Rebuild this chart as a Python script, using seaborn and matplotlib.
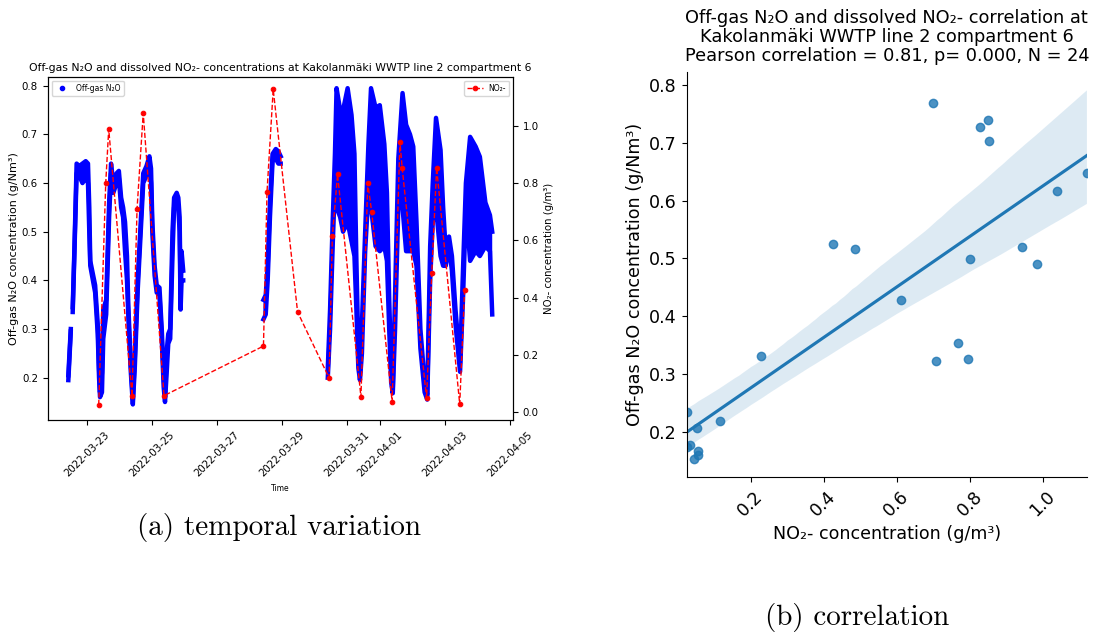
import numpy as np
import pandas as pd
import matplotlib
matplotlib.use("Agg")
import matplotlib.pyplot as plt
import matplotlib.dates as mdates
from matplotlib.lines import Line2D
import seaborn as sns

nan = np.nan
t0 = pd.Timestamp("2022-03-23")

# Off-gas N2O logger trace, read as low/high envelope (days after 2022-03-23, NaN = no data)
n2o_day = [-0.585, -0.55, -0.51, -0.48,
           -0.45, -0.40, -0.33, -0.25, -0.15, -0.05, 0.02, 0.06, 0.09, 0.24, 0.32, 0.36, 0.39,
           0.45, 0.49, 0.58, 0.67, 0.73, 0.80, 0.90, 0.97, 1.04, 1.10, 1.16, 1.22, 1.26, 1.33,
           1.40, 1.46, 1.55, 1.62, 1.72, 1.82, 1.91, 1.96, 2.00, 2.07, 2.135, 2.22, 2.29, 2.35,
           2.39, 2.45, 2.49, 2.55, 2.62, 2.67, 2.75, 2.80, 2.84, 2.87, 2.90, 2.95, 4.0,
           5.42, 5.49, 5.55, 5.62, 5.70, 5.80, 5.88, 5.95, 6.6,
           7.40, 7.47, 7.55, 7.62, 7.67, 7.78, 7.87, 8.01, 8.13, 8.22, 8.28, 8.34, 8.39,
           8.45, 8.55, 8.65, 8.73, 8.87, 9.00, 9.14, 9.22, 9.29, 9.35, 9.40,
           9.47, 9.57, 9.70, 9.81, 9.93, 10.03, 10.13, 10.25, 10.38, 10.46,
           10.55, 10.63, 10.73, 10.87, 10.95, 11.03, 11.13, 11.22, 11.33, 11.47,
           11.56, 11.65, 11.78, 11.95, 12.08, 12.25, 12.39, 12.46]
n2o_low = [0.195, 0.24, 0.295, nan,
           0.335, 0.45, 0.62, 0.615, 0.60, 0.61, 0.60, 0.50, 0.43, 0.375, 0.29, 0.20, 0.16,
           0.17, 0.28, 0.33, 0.53, 0.62, 0.58, 0.60, 0.61, 0.55, 0.53, 0.46, 0.40, 0.33, 0.22,
           0.145, 0.22, 0.38, 0.47, 0.60, 0.615, 0.64, 0.60, 0.50, 0.41, 0.375, 0.37, 0.28, 0.18,
           0.15, 0.22, 0.27, 0.28, 0.45, 0.55, 0.56, 0.55, 0.50, 0.34, 0.40, 0.40, nan,
           0.32, 0.33, 0.40, 0.53, 0.645, 0.65, 0.64, 0.64, nan,
           0.20, 0.30, 0.47, 0.60, 0.55, 0.53, 0.50, 0.52, 0.48, 0.45, 0.34, 0.22, 0.195,
           0.25, 0.46, 0.58, 0.55, 0.47, 0.46, 0.47, 0.44, 0.30, 0.19, 0.168,
           0.30, 0.55, 0.55, 0.46, 0.46, 0.46, 0.43, 0.26, 0.17, 0.155,
           0.40, 0.52, 0.55, 0.45, 0.43, 0.43, 0.47, 0.42, 0.31, 0.212,
           0.36, 0.55, 0.44, 0.46, 0.45, 0.47, 0.46, 0.33]
n2o_high = [0.205, 0.25, 0.30, nan,
            0.345, 0.46, 0.64, 0.635, 0.64, 0.645, 0.64, 0.55, 0.44, 0.39, 0.31, 0.22, 0.17,
            0.21, 0.34, 0.36, 0.56, 0.64, 0.60, 0.62, 0.625, 0.57, 0.55, 0.52, 0.45, 0.35, 0.24,
            0.155, 0.24, 0.40, 0.49, 0.62, 0.635, 0.655, 0.63, 0.52, 0.43, 0.39, 0.385, 0.30, 0.20,
            0.16, 0.26, 0.29, 0.30, 0.50, 0.57, 0.58, 0.57, 0.53, 0.37, 0.46, 0.42, nan,
            0.36, 0.37, 0.43, 0.56, 0.66, 0.67, 0.665, 0.655, nan,
            0.22, 0.34, 0.52, 0.66, 0.795, 0.75, 0.75, 0.795, 0.74, 0.66, 0.44, 0.26, 0.21,
            0.31, 0.50, 0.68, 0.795, 0.755, 0.76, 0.68, 0.58, 0.36, 0.22, 0.18,
            0.37, 0.65, 0.785, 0.72, 0.70, 0.675, 0.52, 0.30, 0.19, 0.165,
            0.47, 0.60, 0.734, 0.668, 0.55, 0.46, 0.49, 0.45, 0.34, 0.23,
            0.42, 0.60, 0.695, 0.675, 0.654, 0.56, 0.534, 0.50]

# Dissolved NO2- grab samples
no2_day = [0.35, 0.566, 0.658, 1.375, 1.53, 1.72, 2.36, 5.42, 5.53, 5.72, 6.47, 7.44, 7.54,
           7.70, 8.42, 8.63, 8.75, 9.38, 9.62, 9.69, 10.44, 10.60, 10.75, 11.46, 11.61]
no2_conc = [0.026, 0.80, 0.988, 0.057, 0.71, 1.044, 0.058, 0.231, 0.77, 1.127, 0.35, 0.12, 0.614,
            0.83, 0.054, 0.80, 0.70, 0.037, 0.944, 0.851, 0.049, 0.487, 0.853, 0.028, 0.428]

# Paired values used for the correlation
corr_no2 = [0.699, 0.827, 0.849, 0.852, 1.121, 1.040, 0.425, 0.485, 0.942, 0.801, 0.985, 0.611,
            0.767, 0.708, 0.796, 0.229, 0.027, 0.117, 0.053, 0.035, 0.025, 0.055, 0.055, 0.046]
corr_n2o = [0.769, 0.727, 0.740, 0.704, 0.648, 0.617, 0.525, 0.516, 0.520, 0.499, 0.490, 0.428,
            0.354, 0.322, 0.326, 0.331, 0.234, 0.218, 0.206, 0.177, 0.174, 0.166, 0.159, 0.153]

fig = plt.figure(figsize=(10.99, 6.39), dpi=100)

# ---- (a) temporal variation
ax = fig.add_axes([0.0434, 0.3427, 0.4234, 0.5368])
n2o_time = t0 + pd.to_timedelta(n2o_day, unit="D")
ax.fill_between(n2o_time, n2o_low, n2o_high, color="blue", lw=0)
ax.plot(n2o_time, n2o_low, color="blue", lw=3.2)
ax.plot(n2o_time, n2o_high, color="blue", lw=3.2)
ax.set_ylim(0.113, 0.818)
ax.set_xlim(t0 - pd.Timedelta(days=1.22), t0 + pd.Timedelta(days=13.1))
ax.xaxis.set_major_locator(mdates.DayLocator(bymonthday=range(1, 32, 2)))
ax.xaxis.set_major_formatter(mdates.DateFormatter("%Y-%m-%d"))
ax.tick_params(axis="x", labelsize=7.4, labelrotation=45)
ax.tick_params(axis="y", labelsize=7.4)
ax.set_ylabel("Off-gas N₂O concentration (g/Nm³)", fontsize=8, labelpad=2)
ax.set_xlabel("Time", fontsize=5.5)
ax.set_title("Off-gas N₂O and dissolved NO₂- concentrations at Kakolanmäki WWTP line 2 compartment 6",
             fontsize=7.8, pad=4)
ax.legend(handles=[Line2D([], [], marker=".", ls="none", color="blue", label="Off-gas N₂O")],
          loc="upper left", fontsize=5.5)

axr = ax.twinx()
no2_time = t0 + pd.to_timedelta(no2_day, unit="D")
sns.lineplot(x=no2_time, y=no2_conc, ax=axr, color="red", linestyle="--", lw=1,
             marker="o", markersize=3.3, markeredgecolor="red", label="NO₂-")
axr.set_ylim(-0.027, 1.17)
axr.tick_params(axis="y", labelsize=7.4)
axr.set_ylabel("NO₂- concentration (g/m³)", fontsize=7.3)
axr.legend(loc="upper right", fontsize=5.5)

# ---- (b) correlation
ax2 = fig.add_axes([0.6248, 0.2531, 0.3642, 0.6343])
sns.regplot(x=corr_no2, y=corr_n2o, ax=ax2, seed=0)
ax2.set_xlim(min(corr_no2), max(corr_no2))
sns.despine(ax=ax2)
ax2.tick_params(labelsize=12.6)
ax2.tick_params(axis="x", labelrotation=45)
ax2.set_xlabel("NO₂- concentration (g/m³)", fontsize=12.6)
ax2.set_ylabel("Off-gas N₂O concentration (g/Nm³)", fontsize=12.6)
ax2.set_title("Off-gas N₂O and dissolved NO₂- correlation at\nKakolanmäki WWTP line 2 compartment 6\n"
              "Pearson correlation = 0.81, p= 0.000, N = 24", fontsize=12.8, linespacing=1.07, pad=8)

fig.text(0.254, 0.175, "(a) temporal variation", fontfamily="cmr10", fontsize=21,
         ha="center", va="center")
fig.text(0.78, 0.033, "(b) correlation", fontfamily="cmr10", fontsize=21,
         ha="center", va="center")

fig.savefig("out.png", dpi=100)
